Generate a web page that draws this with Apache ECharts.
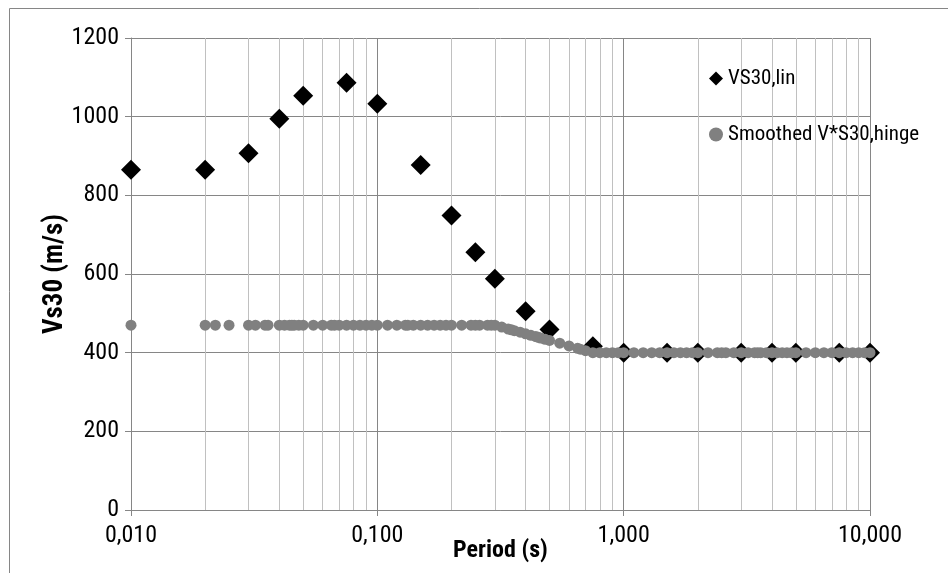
<!DOCTYPE html>
<html>
<head>
<meta charset="utf-8">
<script src="https://cdn.jsdelivr.net/npm/echarts@6/dist/echarts.min.js"></script>
<style>
html,body{margin:0;padding:0;background:#fff;}
#c{width:948px;height:573px;}
</style>
</head>
<body>
<div id="c"></div>
<script>
// Data
var linPeriods = [0.01, 0.02, 0.03, 0.04, 0.05, 0.075, 0.1, 0.15, 0.2, 0.25, 0.3, 0.4, 0.5, 0.75, 1, 1.5, 2, 3, 4, 5, 7.5, 10];
var linValues  = [865, 865, 907, 995, 1053, 1086, 1033, 877, 749, 655, 588, 505, 459, 416, 400, 400, 400, 400, 400, 400, 400, 400];

var hingePeriods = [0.01, 0.02, 0.022, 0.025, 0.03, 0.032, 0.035, 0.036, 0.04, 0.042, 0.044, 0.045, 0.046, 0.048, 0.05,
  0.055, 0.06, 0.065, 0.067, 0.07, 0.075, 0.08, 0.085, 0.09, 0.095, 0.1, 0.11, 0.12, 0.13, 0.133, 0.14, 0.15,
  0.16, 0.17, 0.18, 0.19, 0.2, 0.22, 0.24, 0.25, 0.26, 0.28, 0.29, 0.3, 0.32, 0.34, 0.35, 0.36, 0.38, 0.4,
  0.42, 0.44, 0.45, 0.46, 0.48, 0.5, 0.55, 0.6, 0.65, 0.667, 0.7, 0.75, 0.8, 0.85, 0.9, 0.95, 1,
  1.1, 1.2, 1.3, 1.4, 1.5, 1.6, 1.7, 1.8, 1.9, 2, 2.2, 2.4, 2.5, 2.6, 2.8, 3, 3.2, 3.4, 3.5, 3.6, 3.8,
  4, 4.2, 4.4, 4.6, 4.8, 5, 5.5, 6, 6.5, 7, 7.5, 8, 8.5, 9, 9.5, 10];
var hingeValues = [470, 470, 470, 470, 470, 470, 470, 470, 470, 470, 470, 470, 470, 470, 470,
  470, 470, 470, 470, 470, 470, 470, 470, 470, 470, 470, 470, 470, 470, 470, 470, 470,
  470, 470, 470, 470, 470, 470, 470, 470, 470, 470, 470, 470, 465, 460, 458, 456, 452, 448,
  444, 441, 439, 437, 434, 431, 424, 417, 411, 409, 405, 400, 400, 400, 400, 400, 400,
  400, 400, 400, 400, 400, 400, 400, 400, 400, 400, 400, 400, 400, 400, 400, 400, 400, 400, 400, 400, 400,
  400, 400, 400, 400, 400, 400, 400, 400, 400, 400, 400, 400, 400, 400, 400, 400];

var minorGrid = [0.02, 0.03, 0.04, 0.05, 0.06, 0.07, 0.08, 0.09,
  0.2, 0.3, 0.4, 0.5, 0.6, 0.7, 0.8, 0.9,
  2, 3, 4, 5, 6, 7, 8, 9];

var yTicks = { min: 0, max: 1200, interval: 200 };
var seriesNames = ['VS30,lin', 'Smoothed V*S30,hinge'];

function pairs(xs, ys) { return xs.map(function (x, i) { return [x, ys[i]]; }); }

var chart = echarts.init(document.getElementById('c'), null, { renderer: 'canvas' });
var font = '"Roboto Condensed", "Liberation Sans", Arial, sans-serif';
chart.setOption({
  animation: false,
  backgroundColor: '#fff',
  textStyle: { fontFamily: font },
  graphic: [{
    type: 'rect', shape: { x: 9.5, y: 8.5, width: 960, height: 600 },
    style: { fill: null, stroke: '#868686', lineWidth: 1 }, silent: true, z: -10
  }],
  grid: { left: 131, right: 78, top: 38, bottom: 63, containLabel: false, outerBoundsMode: 'none' },
  legend: {
    orient: 'vertical', left: 704, top: 63, itemGap: 35,
    itemWidth: 14, itemHeight: 14,
    textStyle: { fontSize: 21, color: '#000', fontFamily: font },
    data: [
      { name: seriesNames[0], icon: 'diamond', itemStyle: { color: '#000' } },
      { name: seriesNames[1], icon: 'circle', itemStyle: { color: '#808080' } }
    ]
  },
  xAxis: {
    type: 'log', logBase: 10, min: 0.01, max: 10,
    name: 'Period (s)', nameLocation: 'middle', nameGap: 29, nameMoveOverlap: false,
    nameTextStyle: { fontSize: 24, fontWeight: 'bold', color: '#000', fontFamily: font },
    axisLine: { show: true, lineStyle: { color: '#868686', width: 1 } },
    axisTick: { show: true, length: 6, lineStyle: { color: '#868686' } },
    axisLabel: {
      fontSize: 24, color: '#000', margin: 14,
      formatter: function (v) { return v.toFixed(3).replace('.', ','); }
    },
    splitLine: { show: true, lineStyle: { color: '#868686', width: 1 } },
    minorTick: { show: false }
  },
  yAxis: {
    type: 'value', min: yTicks.min, max: yTicks.max, interval: yTicks.interval,
    name: 'Vs30 (m/s)', nameLocation: 'middle', nameGap: 62, nameRotate: 90, nameMoveOverlap: false,
    nameTextStyle: { fontSize: 27, fontWeight: 'bold', color: '#000', fontFamily: font },
    axisLine: { show: true, lineStyle: { color: '#868686', width: 1 } },
    axisTick: { show: true, length: 6, inside: false, lineStyle: { color: '#868686' } },
    axisLabel: { fontSize: 24, color: '#000', margin: 12, formatter: function (v) { return String(v); } },
    splitLine: { show: true, lineStyle: { color: '#868686', width: 1 } }
  },
  series: [
    {
      name: '__minor', type: 'line', data: [], silent: true, z: 0,
      markLine: {
        silent: true, symbol: ['none', 'none'], label: { show: false }, z: 0,
        lineStyle: { color: '#c0c0c0', width: 1, type: 'solid' },
        animation: false,
        data: minorGrid.map(function (v) { return { xAxis: v }; })
      }
    },
    {
      name: seriesNames[0], type: 'scatter', symbol: 'diamond', symbolSize: 20,
      itemStyle: { color: '#000', opacity: 1 },
      data: pairs(linPeriods, linValues), z: 2
    },
    {
      name: seriesNames[1], type: 'scatter', symbol: 'circle', symbolSize: 11,
      itemStyle: { color: '#808080', opacity: 1 },
      data: pairs(hingePeriods, hingeValues), z: 3
    }
  ]
});
</script>
</body>
</html>
